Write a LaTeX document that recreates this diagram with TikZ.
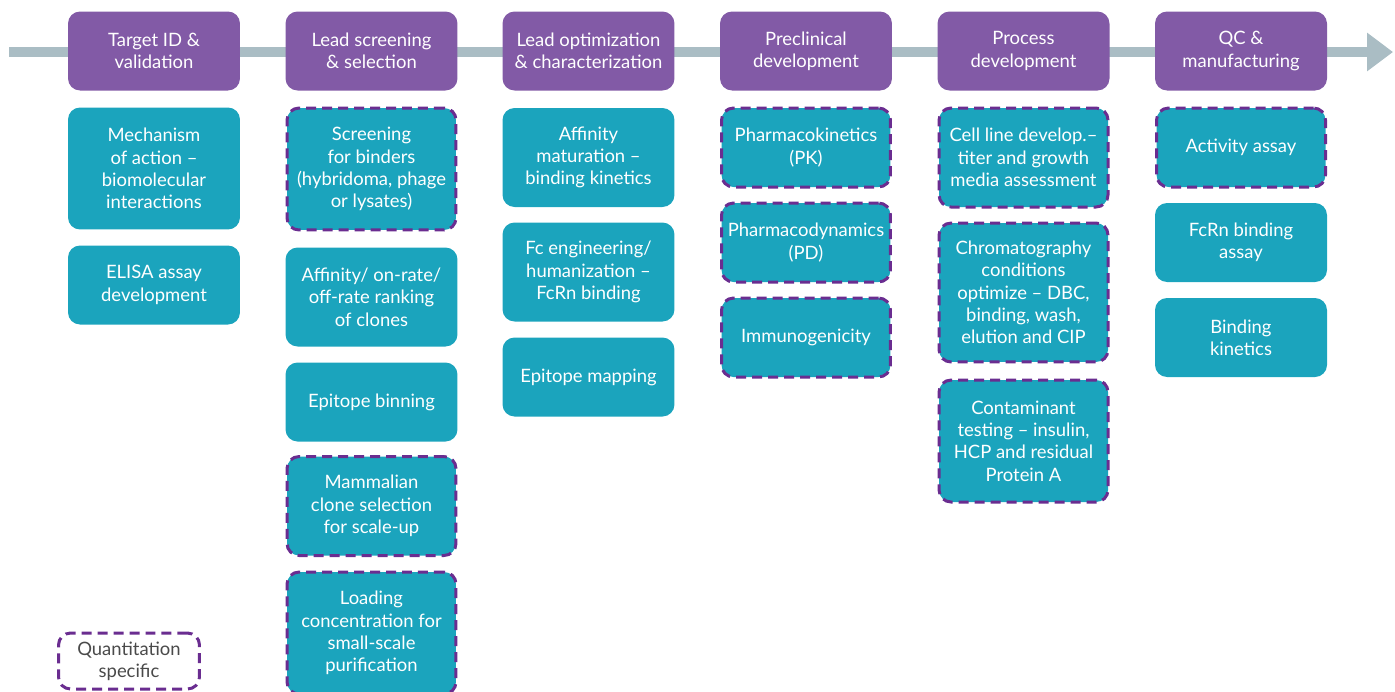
\documentclass[tikz,border=0pt]{standalone}
\usepackage{fontspec}
\setmainfont{Lato}
\usetikzlibrary{arrows.meta}
\definecolor{stagepurple}{HTML}{825AA6}
\definecolor{assayteal}{HTML}{1BA4BD}
\definecolor{quantpurple}{HTML}{6A2D90}
\definecolor{timegray}{HTML}{AABDC4}
\definecolor{legendgray}{HTML}{4A4A4A}

\begin{document}
\begin{tikzpicture}[x=0.02cm, y=-0.02cm,
    font=\fontsize{10.5}{12.7}\selectfont,
    stage/.style={rectangle, rounded corners=0.24cm, fill=stagepurple, text=white,
      minimum width=3.44cm, minimum height=1.58cm, align=center, inner sep=0pt},
    assay/.style={rectangle, rounded corners=0.24cm, fill=assayteal, text=white,
      minimum width=3.44cm, align=center, inner sep=0pt},
    quant/.style={assay, draw=quantpurple, line width=0.06cm,
      minimum width=3.38cm, dash pattern=on 0.2cm off 0.12cm},
    h2/.style={minimum height=1.58cm},
    h3/.style={minimum height=1.98cm},
    h4/.style={minimum height=2.44cm},
    h5/.style={minimum height=2.78cm}]
  \useasboundingbox (0,0) rectangle (1395,691);

  % timeline
  \coordinate (start) at (9,52);
  \coordinate (end) at (1393,52);
  \draw[timegray, line width=0.2cm, -{Triangle[length=0.52cm, width=0.74cm]}] (start) -- (end);

  % stages
  \node[stage] (s1) at (154,51) {Target ID \&\\validation};
  \node[stage] (s2) at (371.5,51) {Lead screening\\\& selection};
  \node[stage] (s3) at (588.5,51) {Lead optimization\\\& characterization};
  \node[stage] (s4) at (806,51) {Preclinical\\development};
  \node[stage] (s5) at (1023.5,51) {Process\\development};
  \node[stage] (s6) at (1241,51) {QC \&\\manufacturing};

  % target ID
  \node[assay, h4] (a11) at (154,168.5) {Mechanism\\of action --\\biomolecular\\interactions};
  \node[assay, h2] (a12) at (154,285) {ELISA assay\\development};

  % lead screening
  \node[quant, h4] (a21) at (371.5,169) {Screening\\for binders\\(hybridoma, phage\\or lysates)};
  \node[assay, h3] (a22) at (371.5,297) {Affinity/ on-rate/\\off-rate ranking\\of clones};
  \node[assay, h2] (a23) at (371.5,402) {Epitope binning};
  \node[quant, h3] (a24) at (371.5,506) {Mammalian\\clone selection\\for scale-up};
  \node[quant, h4] (a25) at (371.5,633) {Loading\\concentration for\\small-scale\\purification};

  % lead optimization
  \node[assay, h3] (a31) at (588.5,157.5) {Affinity\\maturation --\\binding kinetics};
  \node[assay, h3] (a32) at (588.5,272) {Fc engineering/\\humanization --\\FcRn binding};
  \node[assay, h2] (a33) at (588.5,377) {Epitope mapping};

  % preclinical
  \node[quant, h2] (a41) at (806,147.5) {Pharmacokinetics\\(PK)};
  \node[quant, h2] (a42) at (806,242.5) {Pharmacodynamics\\(PD)};
  \node[quant, h2] (a43) at (806,337.5) {Immunogenicity};

  % process
  \node[quant, h3] (a51) at (1023.5,157.5) {Cell line develop.--\\titer and growth\\media assessment};
  \node[quant, h5] (a52) at (1023.5,292.5) {Chromatography\\conditions\\optimize -- DBC,\\binding, wash,\\elution and CIP};
  \node[quant, h4] (a53) at (1023.5,441) {Contaminant\\testing -- insulin,\\HCP and residual\\Protein A};

  % QC
  \node[quant, h2] (a61) at (1241,147.5) {Activity assay};
  \node[assay, h2] (a62) at (1241,242.5) {FcRn binding\\assay};
  \node[assay, h2] (a63) at (1241,337.5) {Binding\\kinetics};

  % legend
  \node[quant, fill=white, text=legendgray, minimum width=2.82cm, minimum height=1.12cm] (key) at (129,661) {Quantitation\\specific};
\end{tikzpicture}
\end{document}
